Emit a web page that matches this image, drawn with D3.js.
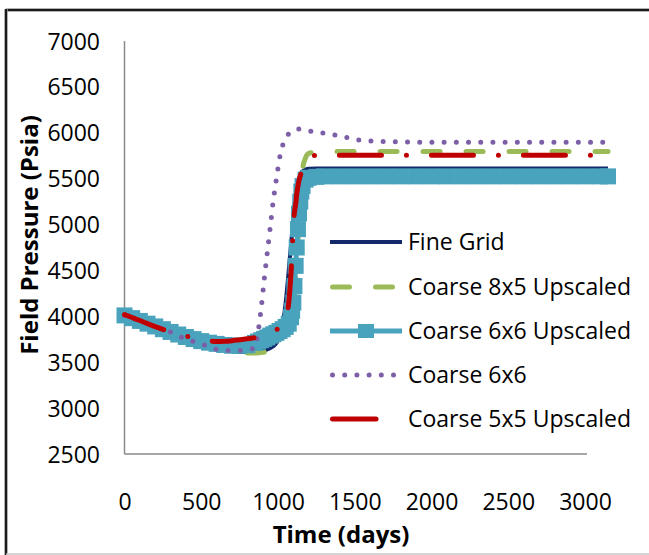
<!DOCTYPE html>
<html>
<head>
<meta charset="utf-8">
<script src="https://cdn.jsdelivr.net/npm/d3@7"></script>
<style>
html,body{margin:0;padding:0;background:#fff;}
svg{display:block;}
text{font-family:"Open Sans",sans-serif;fill:#000;}
</style>
</head>
<body>
<div id="chart"></div>
<script>
// ---- data ----
const days = [0,50,100,150,200,250,300,350,400,450,500,550,600,650,700,750,800,
  850,870,890,910,930,950,970,990,1010,1030,1050,1070,
  1085,1092,1100,1107,1115,1122,1130,1137,1145,1152,1160,
  1180,1200,1250,1300,
  1400,1500,1600,1700,1800,1900,2000,2100,2200,2300,2400,2500,2600,2700,2800,2900,3000,3100,3150];

const fineGrid = [4000,3968,3935,3902,3870,3840,3810,3780,3750,3722,3695,3672,3650,3633,3620,3613,3610,
  3612,3615,3620,3628,3640,3655,3675,3710,3780,3900,4150,4500,
  4780,4920,5080,5200,5300,5380,5450,5500,5540,5565,5580,
  5600,5608,5612,5612,
  5612,5612,5612,5612,5612,5612,5612,5612,5612,5612,5612,5612,5612,5612,5612,5612,5612,5612,5612];

const coarse8x5Up = [4005,3970,3935,3902,3870,3837,3805,3775,3745,3717,3690,3666,3645,3628,3615,3605,3600,
  3600,3602,3605,3610,3618,3630,3650,3680,3720,3770,3830,3900,
  3960,4000,4050,4180,4350,4580,4800,5050,5300,5480,5600,
  5730,5775,5790,5795,
  5795,5795,5795,5795,5795,5795,5795,5795,5795,5795,5795,5795,5795,5795,5795,5795,5795,5795,5795];

const coarse6x6Up = [4010,3980,3950,3920,3890,3860,3830,3802,3775,3752,3730,3713,3700,3688,3680,3680,3685,
  3710,3725,3740,3755,3770,3790,3805,3820,3840,3860,3885,3920,
  3990,4060,4150,4330,4550,4750,4950,5120,5250,5360,5420,
  5490,5510,5520,5525,
  5525,5525,5525,5525,5525,5525,5525,5525,5525,5525,5525,5525,5525,5525,5525,5525,5525,5525,5525];

const coarse6x6 = [4010,3980,3950,3920,3890,3860,3830,3790,3750,3725,3700,3668,3640,3630,3625,3628,3635,
  3660,3830,4080,4400,4690,4980,5270,5500,5720,5860,5940,5990,
  6012,6020,6028,6033,6036,6038,6040,6040,6040,6038,6036,
  6030,6022,6010,5996,
  5968,5928,5912,5905,5900,5898,5898,5898,5898,5898,5898,5898,5898,5898,5898,5898,5898,5898,5898];

const coarse5x5Up = [4018,3987,3955,3921,3888,3858,3830,3806,3785,3764,3745,3733,3725,3728,3735,3745,3755,
  3768,3775,3782,3790,3800,3815,3830,3855,3880,3920,3985,4150,
  4480,4700,4990,5130,5220,5330,5420,5480,5530,5570,5600,
  5680,5733,5755,5755,
  5755,5755,5755,5755,5755,5755,5755,5755,5755,5755,5755,5755,5755,5755,5755,5755,5755,5755,5755];

const seriesNames = ["Fine Grid","Coarse 8x5 Upscaled","Coarse 6x6 Upscaled","Coarse 6x6","Coarse 5x5 Upscaled"];
const xTicks = [0,500,1000,1500,2000,2500,3000];
const yTicks = [2500,3000,3500,4000,4500,5000,5500,6000,6500,7000];
const xTitle = "Time (days)";
const yTitle = "Field Pressure (Psia)";

// ---- styles ----
const styles = [
  {values: fineGrid,   color:"#13296B", width:4, dash:null, cap:"butt"},
  {values: coarse8x5Up,color:"#9BBB59", width:5, dash:"17,26", cap:"round"},
  {values: coarse6x6Up,color:"#4AA3BD", width:5, dash:null, cap:"butt", marker:true},
  {values: coarse6x6,  color:"#7D5FA8", width:5, dash:"0,12.2", cap:"round"},
  {values: coarse5x5Up,color:"#C00000", width:5, dash:"42,25,0,25", cap:"round"}
];

const W = 649, H = 555;
const svg = d3.select("#chart").append("svg").attr("width",W).attr("height",H);

// chart frame
svg.append("rect").attr("x",0).attr("y",0).attr("width",W).attr("height",H).attr("fill","#fff");
svg.append("line").attr("x1",6).attr("x2",W).attr("y1",10).attr("y2",10).attr("stroke","#9a9a9a").attr("stroke-width",3.5);
svg.append("line").attr("x1",6).attr("x2",W).attr("y1",10).attr("y2",10).attr("stroke","#1a1a1a").attr("stroke-width",2);
svg.append("line").attr("x1",6).attr("x2",6).attr("y1",9).attr("y2",H).attr("stroke","#9a9a9a").attr("stroke-width",3.5);
svg.append("line").attr("x1",6).attr("x2",6).attr("y1",9).attr("y2",H).attr("stroke","#1a1a1a").attr("stroke-width",2);
svg.append("line").attr("x1",6).attr("x2",W).attr("y1",554).attr("y2",554).attr("stroke","#c8c8c8").attr("stroke-width",1.5);

const x = d3.scaleLinear().domain([0,3000]).range([124.5,585]);
const y = d3.scaleLinear().domain([2500,7000]).range([454,41]);

// axes lines
svg.append("line").attr("x1",x(0)).attr("x2",x(0)).attr("y1",y(7000)).attr("y2",y(2500)).attr("stroke","#8a8a8a").attr("stroke-width",1.5);
svg.append("line").attr("x1",x(0)).attr("x2",x(3000)+2).attr("y1",y(2500)).attr("y2",y(2500)).attr("stroke","#8a8a8a").attr("stroke-width",1.5);

// y tick labels via axis
const yAxis = d3.axisLeft(y).tickValues(yTicks).tickSize(0).tickPadding(0).tickFormat(d3.format("d"));
const gy = svg.append("g").attr("transform","translate(100,0)").call(yAxis);
gy.select(".domain").remove();
gy.selectAll("text").style("font-family","'Open Sans',sans-serif").style("font-size","23px").attr("fill","#000").attr("dy","0.35em");

// x tick labels via axis
const xAxis = d3.axisBottom(x).tickValues(xTicks).tickSize(0).tickPadding(0).tickFormat(d3.format("d"));
const gx = svg.append("g").attr("transform","translate(0,494)").call(xAxis);
gx.select(".domain").remove();
gx.selectAll("text").style("font-family","'Open Sans',sans-serif").style("font-size","23px").attr("fill","#000").attr("dy","0.35em").attr("y",8);

// titles
svg.append("text").attr("x",341).attr("y",543).attr("text-anchor","middle")
  .style("font-size","24px").style("font-weight","bold").text(xTitle);
svg.append("text").attr("transform","translate(38,235) rotate(-90)").attr("text-anchor","middle")
  .style("font-size","24px").style("font-weight","bold").text(yTitle);

// series
const line = d3.line().x((d,i)=>x(days[i])).y(d=>y(d)).curve(d3.curveMonotoneX);
const plot = svg.append("g");
styles.forEach(s=>{
  plot.append("path").datum(s.values)
    .attr("d",line)
    .attr("fill","none")
    .attr("stroke",s.color)
    .attr("stroke-width",s.width)
    .attr("stroke-linecap",s.cap)
    .attr("stroke-linejoin","round")
    .attr("stroke-dasharray",s.dash);
  if(s.marker){
    const m = 16;
    plot.selectAll(null).data(s.values).enter().append("rect")
      .attr("x",(d,i)=>x(days[i])-m/2).attr("y",d=>y(d)-m/2)
      .attr("width",m).attr("height",m).attr("fill",s.color);
  }
});

// legend
const legY = [242,287,331,375,419];
const leg = svg.append("g");
styles.forEach((s,i)=>{
  const ly = legY[i];
  let x1 = 330, x2 = 402;
  let dash = s.dash;
  if(i===1){ x1 = 332.5; x2 = 396; }
  if(i===3){ x1 = 332.5; x2 = 394; }
  if(i===4){ x1 = 332.5; x2 = 376; dash = null; }
  leg.append("line").attr("x1",x1).attr("x2",x2).attr("y1",ly).attr("y2",ly)
    .attr("stroke",s.color).attr("stroke-width",s.width).attr("stroke-linecap",s.cap)
    .attr("stroke-dasharray",dash);
  if(s.marker){
    leg.append("rect").attr("x",366-8).attr("y",ly-7).attr("width",16).attr("height",14).attr("fill",s.color);
  }
  leg.append("text").attr("x",408).attr("y",ly).attr("dy","0.35em")
    .style("font-size","23px").text(seriesNames[i]);
});
</script>
</body>
</html>
